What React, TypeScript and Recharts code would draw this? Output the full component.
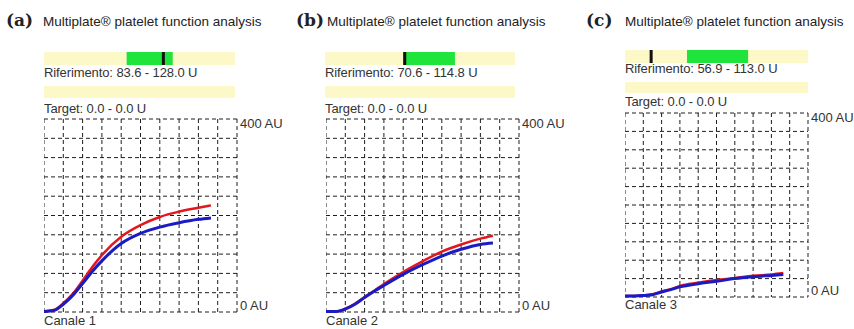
import React from "react";
import {
  Bar,
  BarChart,
  CartesianGrid,
  Line,
  LineChart,
  ReferenceLine,
  XAxis,
  YAxis
} from "recharts";

// time axis, in grid divisions (10 across)
const time = [0, 0.5, 1, 1.5, 2, 2.5, 3, 4, 5, 6, 7, 8, 8.65];

// aggregation curves, AU
const redA = [1, 4, 18, 38, 65, 93, 118, 156, 180, 197, 208, 216, 221];
const blueA = [1, 3, 16, 35, 59, 84, 106, 142, 163, 176, 185, 192, 195];
const redB = [1, 1, 7, 17, 31, 44, 58, 83, 105, 125, 140, 152, 158];
const blueB = [1, 1, 6, 16, 30, 43, 55, 78, 98, 116, 130, 140, 143];
const redC = [2, 2, 4, 6, 12, 17, 24, 31, 37, 41, 46, 49, 52];
const blueC = [2, 2, 3, 5, 11, 16, 22, 29, 34, 40, 44, 47, 49];

// reference ranges (U), measured result marker and bar scale
const refRanges: [number, number][] = [
  [83.6, 128.0],
  [70.6, 114.8],
  [56.9, 113.0]
];
const results = [119, 72, 24];
const barScales: [number, number][] = [
  [4, 188],
  [4, 166],
  [0, 168]
];

const panelLabels = ["(a)", "(b)", "(c)"];
const channelNames = ["Canale 1", "Canale 2", "Canale 3"];
const yTicks = [0, 40, 80, 120, 160, 200, 240, 280, 320, 360, 400];
const xTicks = [0, 1, 2, 3, 4, 5, 6, 7, 8, 9, 10];

const curves = [
  [redA, blueA],
  [redB, blueB],
  [redC, blueC]
];

const layouts = [
  { lx: 6, tx: 43, bx: 44, bw: 191, b1: 52, b1h: 13, rif: 66, b2: 86, b2h: 12, tgt: 102, gx: 44, gy: 119, gw: 193, gh: 193, can: 314 },
  { lx: 296, tx: 327, bx: 325, bw: 190, b1: 52, b1h: 13, rif: 66, b2: 86, b2h: 12, tgt: 102, gx: 326, gy: 119, gw: 193, gh: 193, can: 314 },
  { lx: 586, tx: 625, bx: 625, bw: 183, b1: 50, b1h: 13, rif: 62, b2: 82, b2h: 11, tgt: 95, gx: 625, gy: 113, gw: 183, gh: 184, can: 298 }
];

const PAD = 8;
const YELLOW = "#fcf8c8";
const GREEN = "#1fe43c";
const RED = "#e3181d";
const BLUE = "#1b1bc4";
const SANS = "'Liberation Sans', Arial, sans-serif";

const fmt = (v: number) => v.toFixed(1);

function AxisTick(props: any) {
  const { x, y, payload } = props;
  const v = payload.value;
  if (v !== 0 && v !== 400) return <g />;
  return (
    <text
      x={x + 3}
      y={v === 400 ? y + 6 : y - 5}
      dominantBaseline="middle"
      fontSize={13}
      fontFamily={SANS}
      fill="#333"
    >
      {`${v} AU`}
    </text>
  );
}

// vertical grid lines at every time division, placed through the x scale
const verticalLines = ({ xAxis, offset }: any) =>
  xTicks.map((t) =>
    xAxis && typeof xAxis.scale === "function"
      ? xAxis.scale(t)
      : offset.left + (t / 10) * offset.width
  );

function Panel({ i }: { i: number }) {
  const L = layouts[i];
  const [red, blue] = curves[i];
  const data = time.map((t, k) => ({ t, red: red[k], blue: blue[k] }));
  const [lo, hi] = refRanges[i];
  const text: React.CSSProperties = {
    position: "absolute",
    fontFamily: SANS,
    fontSize: 13,
    color: "#333",
    whiteSpace: "nowrap",
    lineHeight: "14px"
  };

  return (
    <>
      <div
        style={{
          position: "absolute",
          left: L.lx,
          top: 10,
          fontFamily: "'DejaVu Serif', serif",
          fontWeight: "bold",
          fontSize: 17,
          color: "#222",
          whiteSpace: "nowrap"
        }}
      >
        {panelLabels[i]}
      </div>
      <div style={{ ...text, left: L.tx, top: 15, color: "#222", fontSize: 13.5 }}>
        Multiplate® platelet function analysis
      </div>

      <div style={{ position: "absolute", left: L.bx, top: L.b1, width: L.bw, height: L.b1h, background: YELLOW }}>
        <BarChart
          width={L.bw}
          height={L.b1h}
          layout="vertical"
          data={[{ name: "ref", range: [lo, hi] }]}
          margin={{ top: 0, right: 0, bottom: 0, left: 0 }}
          barCategoryGap={0}
        >
          <XAxis type="number" domain={barScales[i]} hide allowDataOverflow />
          <YAxis type="category" dataKey="name" hide />
          <Bar dataKey="range" fill={GREEN} isAnimationActive={false} />
          <ReferenceLine x={results[i]} stroke="#111" strokeWidth={3} />
        </BarChart>
      </div>
      <div style={{ ...text, left: L.bx, top: L.rif, letterSpacing: "-0.1px" }}>
        Riferimento: {fmt(lo)} - {fmt(hi)} U
      </div>
      <div style={{ position: "absolute", left: L.bx, top: L.b2, width: L.bw, height: L.b2h, background: YELLOW }} />
      <div style={{ ...text, left: L.bx, top: L.tgt, letterSpacing: "-0.1px" }}>
        Target: 0.0 - 0.0 U
      </div>

      <div style={{ position: "absolute", left: L.gx, top: L.gy - PAD }}>
        <LineChart
          width={L.gw + 62}
          height={L.gh + 2 * PAD}
          data={data}
          margin={{ top: PAD, right: 0, bottom: PAD, left: 0 }}
        >
          <CartesianGrid
            stroke="#1e1e1e"
            strokeDasharray="4 3"
            verticalCoordinatesGenerator={verticalLines}
          />
          <XAxis
            type="number"
            dataKey="t"
            domain={[0, 10]}
            ticks={xTicks}
            interval={0}
            height={0}
            tick={false}
            axisLine={false}
            tickLine={false}
          />
          <YAxis
            orientation="right"
            domain={[0, 400]}
            ticks={yTicks}
            interval={0}
            width={62}
            axisLine={false}
            tickLine={false}
            tickSize={0}
            tickMargin={0}
            tick={<AxisTick />}
          />
          <Line type="monotone" dataKey="red" stroke={RED} strokeWidth={2.5} dot={false} isAnimationActive={false} />
          <Line type="monotone" dataKey="blue" stroke={BLUE} strokeWidth={3} dot={false} isAnimationActive={false} />
        </LineChart>
      </div>
      <div style={{ ...text, left: L.gx, top: L.can }}>{channelNames[i]}</div>
    </>
  );
}

export default function App() {
  return (
    <div
      style={{
        position: "absolute",
        left: 0,
        top: 0,
        width: 854,
        height: 329,
        background: "#fff",
        overflow: "hidden"
      }}
    >
      {[0, 1, 2].map((i) => (
        <Panel key={i} i={i} />
      ))}
    </div>
  );
}
